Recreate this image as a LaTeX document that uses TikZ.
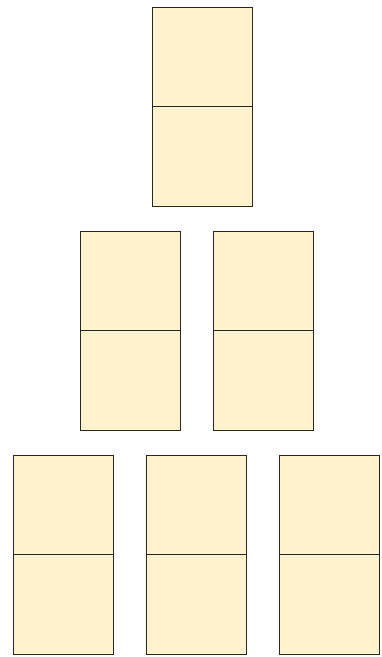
\documentclass[tikz,border=0pt]{standalone}
\begin{document}
\begin{tikzpicture}[x=1pt,y=-1pt,
  cell/.style={draw=black!85,line width=0.8pt,fill={rgb,255:red,255;green,242;blue,204},minimum width=100pt,minimum height=99.5pt,inner sep=0pt,outer sep=0pt,anchor=north west}]
\useasboundingbox (0,0) rectangle (382,657);
% top
\node[cell] (a1) at (152.5,7) {};
\node[cell] (a2) at (152.5,106.5) {};
% middle
\node[cell] (b1) at (80.5,231) {};
\node[cell] (b2) at (80.5,330.5) {};
\node[cell] (c1) at (213.5,231) {};
\node[cell] (c2) at (213.5,330.5) {};
% bottom
\node[cell] (d1) at (13.5,455) {};
\node[cell] (d2) at (13.5,554.5) {};
\node[cell] (e1) at (146.5,455) {};
\node[cell] (e2) at (146.5,554.5) {};
\node[cell] (f1) at (279.5,455) {};
\node[cell] (f2) at (279.5,554.5) {};
\end{tikzpicture}
\end{document}
